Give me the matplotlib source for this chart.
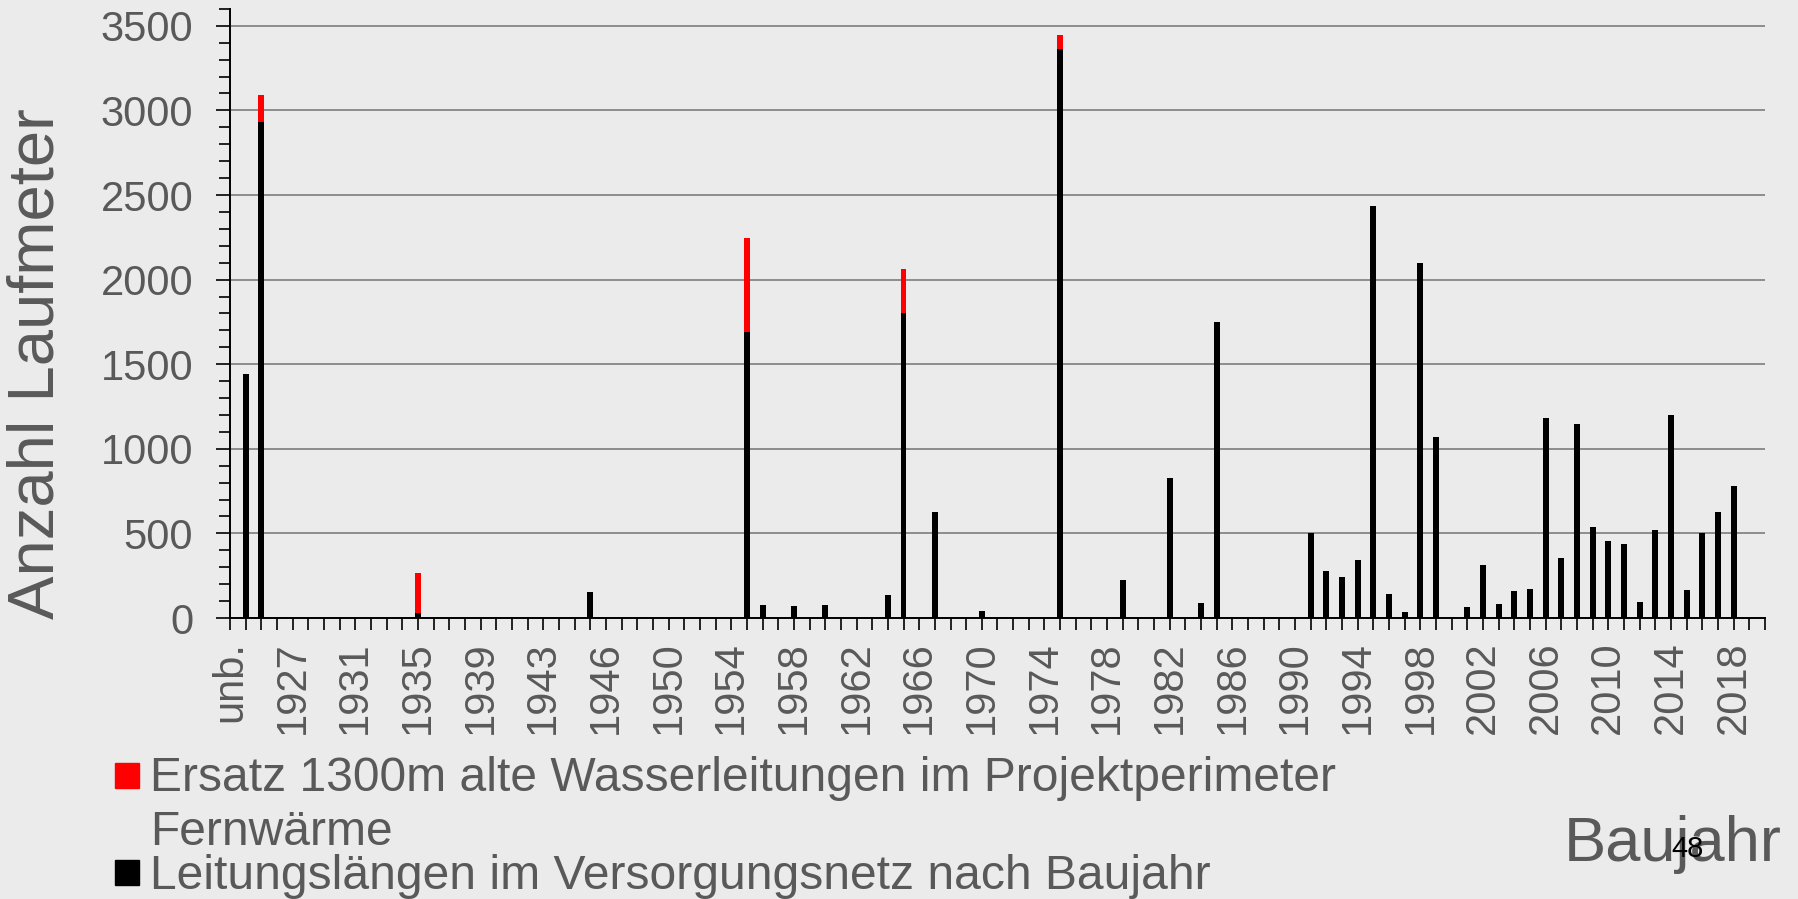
import matplotlib
matplotlib.use("Agg")
import matplotlib.pyplot as plt
from matplotlib.patches import Rectangle
from matplotlib.ticker import MultipleLocator, FixedLocator
import numpy as np

plt.rcParams['font.family'] = ['Liberation Sans', 'DejaVu Sans']

# ---------------- data ----------------
categories = (["unb."] + [str(y) for y in range(1924, 1946)] + ["1945/46"]
              + [str(y) for y in range(1946, 2021)])

# Leitungslängen im Versorgungsnetz nach Baujahr (black)
leit_years = ["1924", "1925", "1935", "1945/46", "1955", "1956", "1958", "1960",
              "1963", "1964", "1965", "1967", "1970", "1975", "1979", "1982",
              "1984", "1985", "1991", "1992", "1993", "1994", "1995", "1996",
              "1997", "1998", "1999", "2000", "2001", "2002", "2003", "2004",
              "2005", "2006", "2007", "2008", "2009", "2010", "2011", "2012",
              "2013", "2014", "2015", "2016", "2017", "2018"]
leit_values = [1445, 2933, 31, 156, 1688, 77, 71, 75,
               8, 138, 1804, 626, 43, 3365, 224, 826,
               91, 1749, 501, 278, 244, 345, 2433, 142,
               37, 2100, 1067, 5, 63, 312, 81, 160,
               169, 1185, 352, 1144, 535, 454, 440, 96,
               522, 1200, 163, 501, 626, 779]

# Ersatz 1300m alte Wasserleitungen im Projektperimeter (red, stacked on top)
ersatz_years = ["1925", "1935", "1955", "1965", "1975"]
ersatz_values = [158, 234, 557, 259, 81]

series_labels = ["Ersatz 1300m alte Wasserleitungen im Projektperimeter",
                 "Fernwärme",
                 "Leitungslängen im Versorgungsnetz nach Baujahr"]

# --------------------------------------
leit = np.zeros(len(categories))
ersatz = np.zeros(len(categories))
for yr, v in zip(leit_years, leit_values):
    leit[categories.index(yr)] = v
for yr, v in zip(ersatz_years, ersatz_values):
    ersatz[categories.index(yr)] = v
x = np.arange(len(categories))

BG = '#EBEBEB'
TXT = '#595959'
W, H = 1798, 899

fig = plt.figure(figsize=(17.98, 8.99), dpi=100, facecolor=BG)
ax = fig.add_axes([230 / W, 1 - 618 / H, (1765 - 230) / W, (618 - 8.9) / H])
ax.set_facecolor(BG)

ax.bar(x, leit, width=0.38, color='black', zorder=3)
ax.bar(x, ersatz, bottom=leit, width=0.38, color='#FF0000', zorder=3)

ax.set_xlim(0, len(categories) - 1)
ax.set_ylim(0, 3600)

ax.yaxis.set_major_locator(FixedLocator(np.arange(0, 3501, 500)))
ax.yaxis.set_minor_locator(MultipleLocator(100))
ax.grid(axis='y', which='major', color='#868686', linewidth=1.3, zorder=0)
ax.set_axisbelow(True)

ax.set_xticks(x)
ax.set_xticklabels([c if i % 4 == 0 else '' for i, c in enumerate(categories)],
                   rotation=90, fontsize=30, color=TXT)
ax.tick_params(axis='x', which='major', length=8.6, width=1.2, direction='out',
               pad=8, color='black')
ax.tick_params(axis='y', which='major', length=10, width=1.2, direction='out',
               pad=16.5, labelsize=30, labelcolor=TXT)
ax.tick_params(axis='y', which='minor', length=7.7, width=1.2, direction='out')

for s in ['top', 'right']:
    ax.spines[s].set_visible(False)
for s in ['left', 'bottom']:
    ax.spines[s].set_color('black')
    ax.spines[s].set_linewidth(1.4)

fig.text(37 / W, 1 - 364 / H, "Anzahl Laufmeter", rotation=90,
         ha='center', va='center', fontsize=47, color=TXT)
fig.text(1782 / W, 1 - 861 / H, "Baujahr", ha='right', va='baseline',
         fontsize=45.5, color=TXT)
fig.text(1688 / W, 1 - 849 / H, "48", ha='center', va='center',
         fontsize=21, color='black')

# legend (manual)
fig.add_artist(Rectangle((115 / W, 1 - 788 / H), 24 / W, 25 / H,
                         transform=fig.transFigure, color='#FF0000'))
fig.add_artist(Rectangle((115 / W, 1 - 885 / H), 24 / W, 25 / H,
                         transform=fig.transFigure, color='black'))
legend_baselines = [791, 845, 889]
for lab, yb in zip(series_labels, legend_baselines):
    fig.text(150 / W, 1 - yb / H, lab, ha='left', va='baseline',
             fontsize=34.6, color=TXT)

fig.savefig("out.png", dpi=100, facecolor=BG)
